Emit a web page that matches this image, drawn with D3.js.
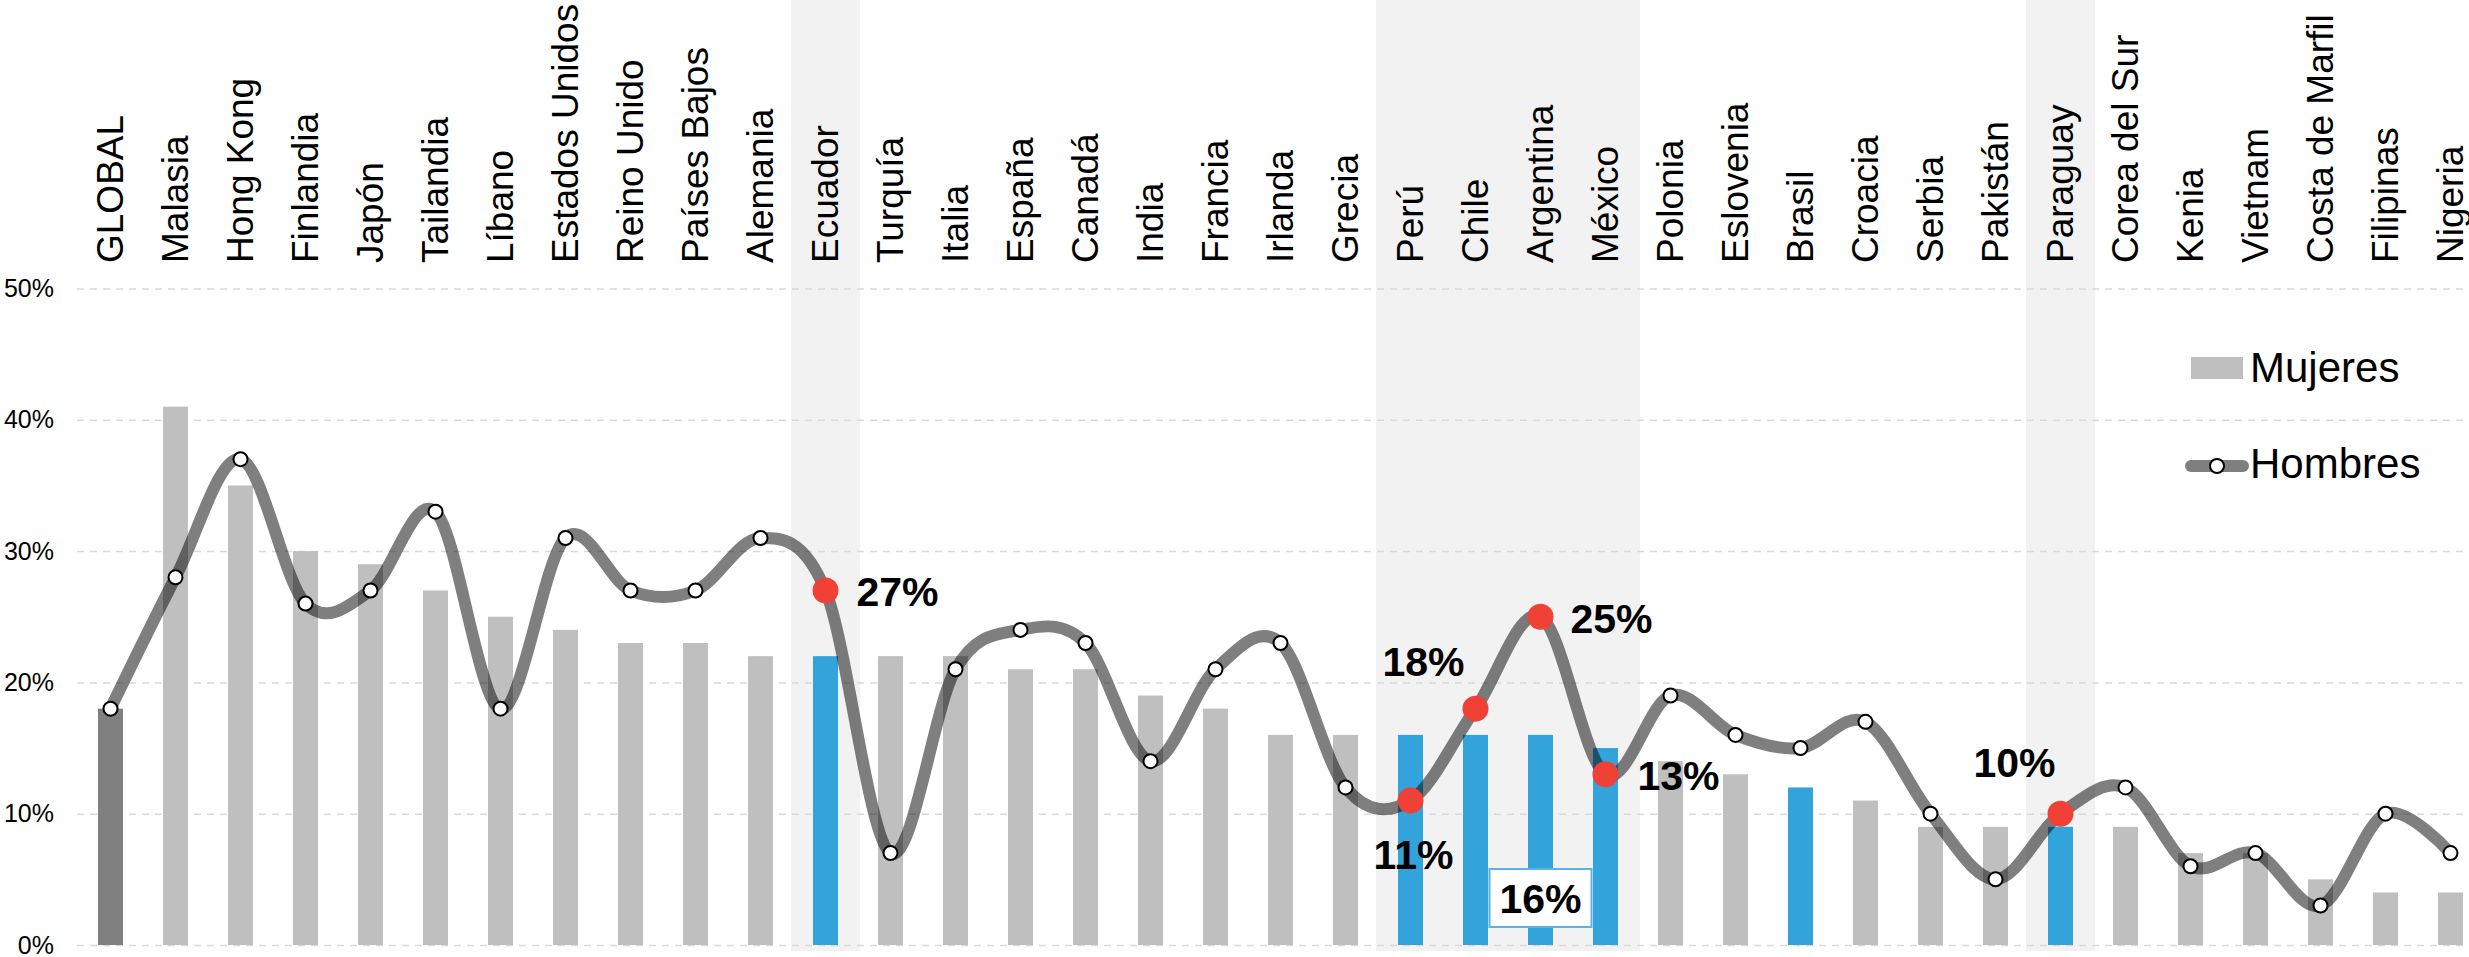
<!DOCTYPE html>
<html>
<head>
<meta charset="utf-8">
<script src="https://cdn.jsdelivr.net/npm/d3@7"></script>
<style>
  body { margin: 0; background: #fff; }
  svg { display: block; font-family: "Liberation Sans", Arial, sans-serif; }
  .grid line { stroke: #d9d9d9; stroke-width: 1.5; stroke-dasharray: 7,6; }
  .grid text { font-size: 25px; fill: #000; }
  .cat { font-size: 37px; fill: #000; }
  .note { font-size: 41px; font-weight: bold; fill: #000; }
  .legend text { font-size: 42px; fill: #000; }
</style>
</head>
<body>
<div id="chart"></div>
<script>
const categories = ["GLOBAL", "Malasia", "Hong Kong", "Finlandia", "Japón", "Tailandia", "Líbano",
  "Estados Unidos", "Reino Unido", "Países Bajos", "Alemania", "Ecuador", "Turquía", "Italia",
  "España", "Canadá", "India", "Francia", "Irlanda", "Grecia", "Perú", "Chile", "Argentina",
  "México", "Polonia", "Eslovenia", "Brasil", "Croacia", "Serbia", "Pakistán", "Paraguay",
  "Corea del Sur", "Kenia", "Vietnam", "Costa de Marfil", "Filipinas", "Nigeria"];

// share of women / men, in %
const mujeres = [18, 41, 35, 30, 29, 27, 25, 24, 23, 23, 22, 22, 22, 22, 21, 21, 19, 18, 16, 16,
  16, 16, 16, 15, 14, 13, 12, 11, 9, 9, 9, 9, 7, 7, 5, 4, 4];
const hombres = [18, 28, 37, 26, 27, 33, 18, 31, 27, 27, 31, 27, 7, 21, 24, 23, 14, 21, 23, 12,
  11, 18, 25, 13, 19, 16, 15, 17, 10, 5, 10, 12, 6, 7, 3, 10, 7];

const yTicks = [0, 10, 20, 30, 40, 50];

// countries in focus
const blueBars = ["Ecuador", "Perú", "Chile", "Argentina", "México", "Brasil", "Paraguay"];
const redPoints = ["Ecuador", "Perú", "Chile", "Argentina", "México", "Paraguay"];
const shaded = [["Ecuador", "Ecuador"], ["Perú", "México"], ["Paraguay", "Paraguay"]];

// where the value labels of the red points sit
const notes = [
  {cat: "Ecuador", dx: 31, dy: 16, anchor: "start"},
  {cat: "Perú", dx: 3, dy: 68, anchor: "middle"},
  {cat: "Chile", dx: -11, dy: -33, anchor: "end"},
  {cat: "Argentina", dx: 30, dy: 16, anchor: "start"},
  {cat: "México", dx: 32, dy: 16, anchor: "start"},
  {cat: "Paraguay", dx: -5, dy: -37, anchor: "end"}
];

const W = 2469, H = 957;
const svg = d3.select("#chart").append("svg").attr("width", W).attr("height", H);

const x = d3.scaleBand().domain(categories).range([78, 2483])
  .paddingInner(0.615).paddingOuter(0.3075);
const step = x.step();
const cx = c => x(c) + x.bandwidth() / 2;
const y = d3.scaleLinear().domain([0, 50]).range([945, 288.5]);

// shaded columns
svg.append("g").selectAll("rect")
  .data(shaded)
  .join("rect")
    .attr("x", d => cx(d[0]) - step / 2 - 2)
    .attr("width", d => cx(d[1]) - cx(d[0]) + step + 4)
    .attr("y", 0)
    .attr("height", y(0) + 6)
    .attr("fill", "#f2f2f2");

// gridlines + tick labels
const grid = svg.append("g")
  .attr("class", "grid")
  .attr("transform", "translate(77,0)")
  .call(d3.axisLeft(y).tickValues(yTicks).tickFormat(d => d + "%")
    .tickSize(-(W - 77)).tickPadding(23));
grid.select(".domain").remove();
grid.selectAll("text").attr("font-family", null).attr("font-size", null);

// bars (mujeres)
svg.append("g").selectAll("rect")
  .data(categories)
  .join("rect")
    .attr("x", d => x(d))
    .attr("width", x.bandwidth())
    .attr("y", (d, i) => y(mujeres[i]))
    .attr("height", (d, i) => y(0) - y(mujeres[i]))
    .attr("fill", (d, i) => i === 0 ? "#808080" : blueBars.includes(d) ? "#33a3dc" : "#bfbfbf");

// line (hombres)
const line = d3.line()
  .x((d, i) => cx(categories[i]))
  .y(d => y(d))
  .curve(d3.curveCatmullRom.alpha(0));

svg.append("path")
  .datum(hombres)
  .attr("d", line)
  .attr("fill", "none")
  .attr("stroke", "#000")
  .attr("stroke-opacity", 0.5)
  .attr("stroke-width", 12);

svg.append("g").selectAll("circle")
  .data(categories)
  .join("circle")
    .attr("cx", d => cx(d))
    .attr("cy", (d, i) => y(hombres[i]))
    .attr("r", d => redPoints.includes(d) ? 13 : 7)
    .attr("fill", d => redPoints.includes(d) ? "#ef4136" : "#fff")
    .attr("stroke", d => redPoints.includes(d) ? "none" : "#000")
    .attr("stroke-width", 2);

// value labels
svg.append("g").selectAll("text")
  .data(notes)
  .join("text")
    .attr("class", "note")
    .attr("x", d => cx(d.cat) + d.dx)
    .attr("y", d => y(hombres[categories.indexOf(d.cat)]) + d.dy)
    .attr("text-anchor", d => d.anchor)
    .text(d => hombres[categories.indexOf(d.cat)] + "%");

// boxed label for the women bars of Perú–México
const boxX = cx("Argentina");
svg.append("rect")
  .attr("x", boxX - 51).attr("y", y(0) - 76)
  .attr("width", 102).attr("height", 58)
  .attr("fill", "#fff").attr("stroke", "#5ab4e5").attr("stroke-width", 2);
svg.append("text")
  .attr("class", "note")
  .attr("x", boxX).attr("y", y(0) - 32)
  .attr("text-anchor", "middle")
  .text(mujeres[categories.indexOf("Argentina")] + "%");

// category labels, rotated
svg.append("g").selectAll("text")
  .data(categories)
  .join("text")
    .attr("class", "cat")
    .attr("transform", d => `translate(${cx(d)},263) rotate(-90)`)
    .attr("dy", "0.35em")
    .text(d => d);

// legend
const lg = svg.append("g").attr("class", "legend");
lg.append("rect").attr("x", 2191).attr("y", 357).attr("width", 52).attr("height", 22).attr("fill", "#bfbfbf");
lg.append("text").attr("x", 2250).attr("y", 382).text("Mujeres");
lg.append("line").attr("x1", 2191).attr("x2", 2243).attr("y1", 466).attr("y2", 466)
  .attr("stroke", "#000").attr("stroke-opacity", 0.5).attr("stroke-width", 12).attr("stroke-linecap", "round");
lg.append("circle").attr("cx", 2217).attr("cy", 466).attr("r", 7)
  .attr("fill", "#fff").attr("stroke", "#000").attr("stroke-width", 2);
lg.append("text").attr("x", 2250).attr("y", 478).text("Hombres");
</script>
</body>
</html>
